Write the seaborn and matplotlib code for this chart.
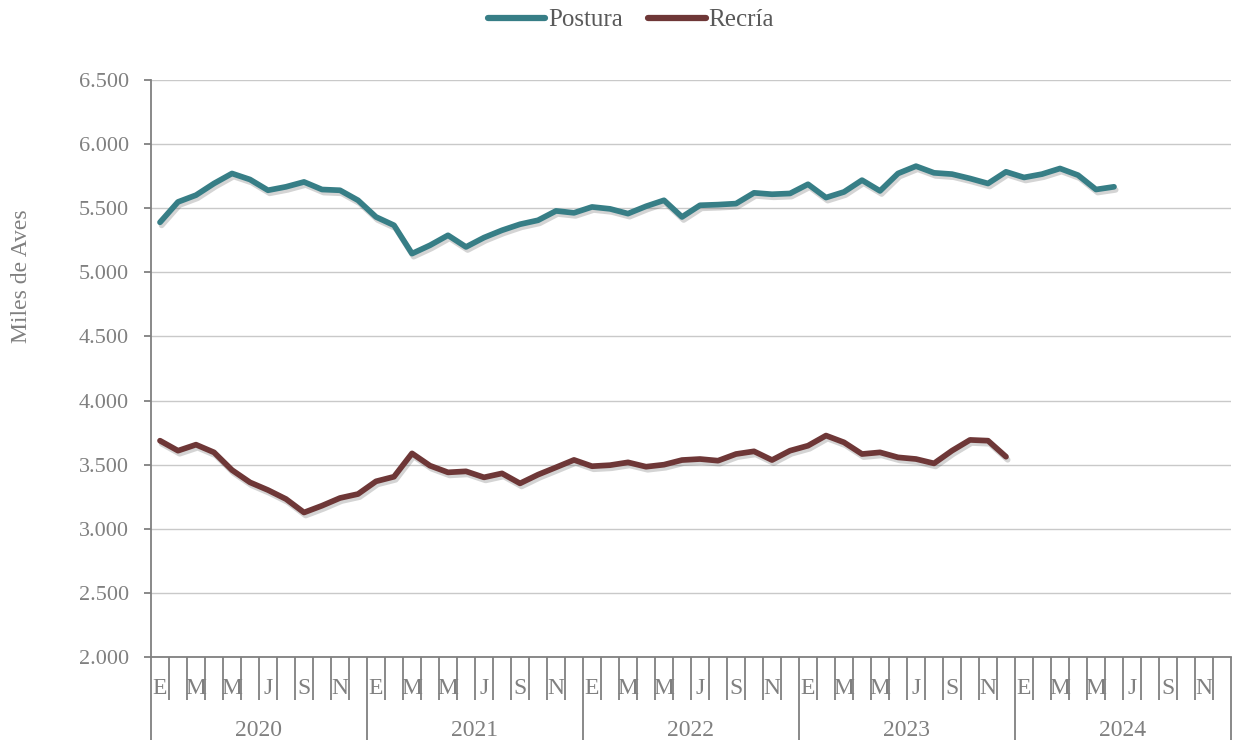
import matplotlib
matplotlib.use("Agg")
import matplotlib.pyplot as plt
import matplotlib.patheffects as pe
from matplotlib.lines import Line2D
from matplotlib.ticker import FuncFormatter
import pandas as pd
import seaborn as sns

# Datos mensuales (miles de aves), enero 2020 en adelante
postura = [5390, 5549, 5602, 5693, 5771, 5724, 5640, 5667, 5705, 5646, 5640, 5562,
           5432, 5367, 5146, 5211, 5289, 5198, 5271, 5328, 5375, 5406, 5479, 5464,
           5510, 5495, 5458, 5515, 5562, 5432, 5523, 5528, 5536, 5620, 5609, 5615,
           5687, 5583, 5627, 5719, 5635, 5771, 5828, 5776, 5766, 5732, 5693, 5784,
           5740, 5766, 5810, 5758, 5646, 5667]
recria = [3687, 3609, 3656, 3596, 3458, 3362, 3302, 3232, 3127, 3180, 3240, 3271,
          3370, 3406, 3588, 3492, 3440, 3448, 3401, 3432, 3354, 3422, 3479, 3537,
          3488, 3496, 3518, 3484, 3500, 3536, 3544, 3531, 3583, 3604, 3536, 3609,
          3648, 3727, 3674, 3583, 3596, 3557, 3544, 3510, 3609, 3693, 3687, 3562]
meses = ["E", "F", "M", "A", "M", "J", "J", "A", "S", "O", "N", "D"]
anios = ["2020", "2021", "2022", "2023", "2024"]

colores = {"Postura": "#377E86", "Recría": "#6E3737"}
gris = "#808080"

sns.set_theme(style="white")
plt.rcParams["font.family"] = ["Liberation Serif", "DejaVu Serif"]

df = pd.concat([
    pd.DataFrame({"mes": range(len(postura)), "valor": postura, "serie": "Postura"}),
    pd.DataFrame({"mes": range(len(recria)), "valor": recria, "serie": "Recría"}),
])

fig = plt.figure(figsize=(12.33, 7.4), dpi=100)
ax = fig.add_axes([151 / 1233, 83 / 740, 1080 / 1233, 577 / 740])

sns.lineplot(data=df, x="mes", y="valor", hue="serie", palette=colores,
             linewidth=4.1, ax=ax, legend=False)
for line in ax.lines:
    line.set_solid_capstyle("round")
    line.set_solid_joinstyle("round")
    line.set_path_effects([pe.SimpleLineShadow(offset=(1.2, -2.2), alpha=0.25, shadow_color="#555555"),
                           pe.Normal()])

n = len(meses) * len(anios)
ax.set_xlim(-0.5, n - 0.5)
ax.set_ylim(2000, 6500)
ax.set_yticks(range(2000, 6501, 500))
ax.yaxis.set_major_formatter(FuncFormatter(lambda v, p: f"{v:,.0f}".replace(",", ".")))
ax.yaxis.grid(True, color="#c9c9c9", linewidth=1)
ax.set_axisbelow(True)

ax.set_xticks([12 * k - 0.5 for k in range(len(anios) + 1)])
ax.set_xticks([m - 0.5 for m in range(n + 1) if m % 12 != 0], minor=True)
ax.tick_params(axis="x", which="major", bottom=True, length=60, width=1.3, color=gris, labelbottom=False)
ax.tick_params(axis="x", which="minor", bottom=True, length=31, width=1.3, color=gris, labelbottom=False)
ax.tick_params(axis="y", length=5, width=1.3, color=gris, pad=11, labelsize=16, labelcolor=gris, left=True)

for s in ["top", "right"]:
    ax.spines[s].set_visible(False)
for s in ["left", "bottom"]:
    ax.spines[s].set_color(gris)
    ax.spines[s].set_linewidth(1.3)

ax.set_xlabel("")
ax.set_ylabel("")

trans = ax.get_xaxis_transform()
for m in range(0, n, 2):
    ax.text(m, -0.054, meses[m % 12], transform=trans, ha="center", va="center",
            fontsize=17, color=gris)
for k, a in enumerate(anios):
    ax.text(12 * k + 5.5, -0.127, a, transform=trans, ha="center", va="center",
            fontsize=17, color=gris)

fig.text(22 / 1233, 1 - 276 / 740, "Miles de Aves", rotation=90, ha="center", va="center",
         fontsize=17, color=gris)

handles = [Line2D([], [], color=colores[k], linewidth=4.5, solid_capstyle="round") for k in colores]
fig.legend(handles, list(colores), loc="center", bbox_to_anchor=(631 / 1233, 1 - 20 / 740),
           ncol=2, frameon=False, fontsize=18, handlelength=2.3, handletextpad=0.12,
           columnspacing=1.0, labelcolor="#595959")

fig.savefig("out.png", dpi=100)
